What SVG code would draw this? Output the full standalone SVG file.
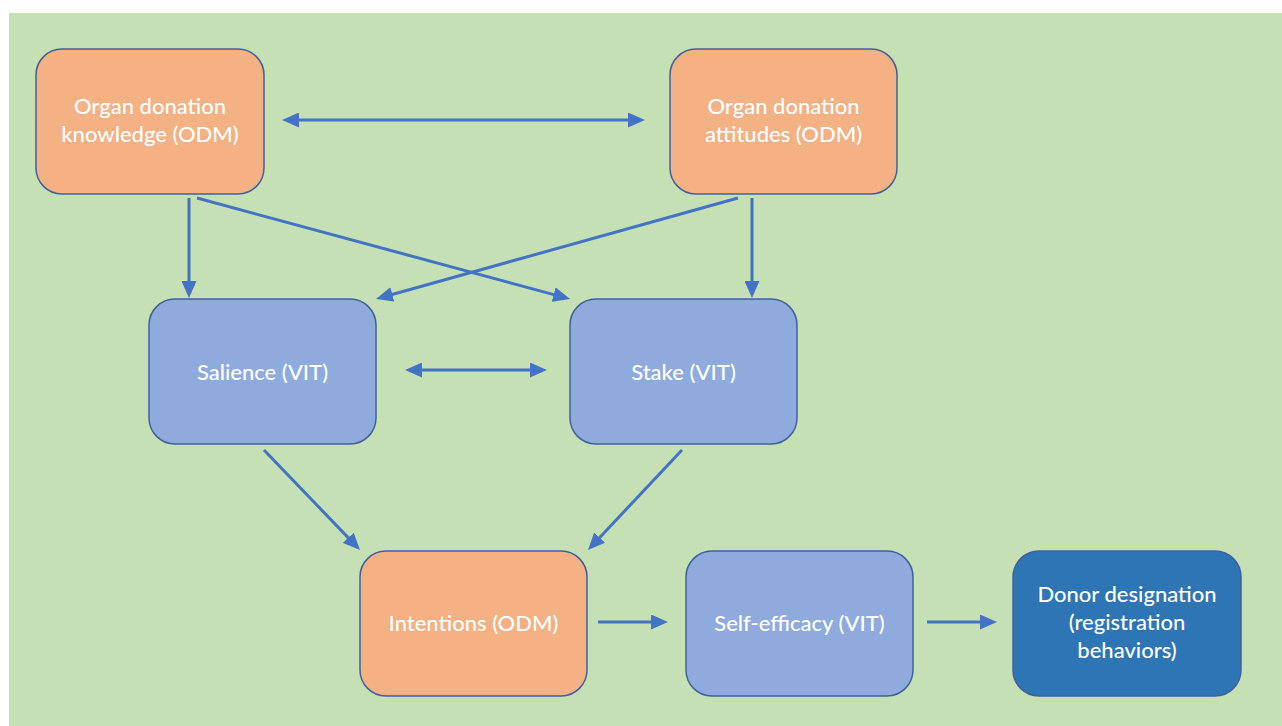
<svg xmlns="http://www.w3.org/2000/svg" width="1282" height="726" viewBox="0 0 1282 726">
<style>
.node rect{stroke:#41609A;stroke-width:1.5}
.odm rect{fill:#F4B183}
.vit rect{fill:#8FAADC}
.out rect{fill:#2E75B6}
text{font-family:Lato,"Open Sans","Liberation Sans",sans-serif;font-size:22px;font-weight:500;fill:#FFFFFF;text-anchor:middle}
.conn line{stroke:#4472C4;stroke-width:3;fill:none}
</style>
<defs>
<marker id="ah" markerUnits="userSpaceOnUse" markerWidth="17" markerHeight="15" refX="4" refY="7.5" orient="auto-start-reverse" viewBox="0 0 17 15">
<path d="M0,0 L17,7.5 L0,15 z" fill="#4472C4"/>
</marker>
</defs>
<rect x="9" y="13" width="1273" height="713" fill="#C5E0B4"/>
<g id="n-knowledge" class="node odm"><rect x="36" y="49" width="228" height="145" rx="26"/><text x="150" y="114">Organ donation</text><text x="150" y="142">knowledge (ODM)</text></g>
<g id="n-attitudes" class="node odm"><rect x="670" y="49" width="227" height="145" rx="26"/><text x="783.5" y="114">Organ donation</text><text x="783.5" y="142">attitudes (ODM)</text></g>
<g id="n-salience" class="node vit"><rect x="149" y="299" width="227" height="145" rx="26"/><text x="262.5" y="380">Salience (VIT)</text></g>
<g id="n-stake" class="node vit"><rect x="570" y="299" width="227" height="145" rx="26"/><text x="683.5" y="380">Stake (VIT)</text></g>
<g id="n-intentions" class="node odm"><rect x="360" y="551" width="227" height="145" rx="26"/><text x="473.5" y="631">Intentions (ODM)</text></g>
<g id="n-selfefficacy" class="node vit"><rect x="686" y="551" width="227" height="145" rx="26"/><text x="799.5" y="631">Self-efficacy (VIT)</text></g>
<g id="n-donor" class="node out"><rect x="1013" y="551" width="228" height="145" rx="26"/><text x="1127" y="602">Donor designation</text><text x="1127" y="630">(registration</text><text x="1127" y="658">behaviors)</text></g>
<g id="connectors" class="conn">
<line x1="295" y1="120" x2="632" y2="120" marker-start="url(#ah)" marker-end="url(#ah)"/>
<line x1="189" y1="198" x2="189" y2="285" marker-end="url(#ah)"/>
<line x1="197" y1="198" x2="557.5" y2="295.6" marker-end="url(#ah)"/>
<line x1="738" y1="198" x2="388.5" y2="295.5" marker-end="url(#ah)"/>
<line x1="752" y1="198" x2="752" y2="285" marker-end="url(#ah)"/>
<line x1="418" y1="370" x2="534" y2="370" marker-start="url(#ah)" marker-end="url(#ah)"/>
<line x1="264" y1="450" x2="351" y2="540.6" marker-end="url(#ah)"/>
<line x1="682" y1="450" x2="596.9" y2="540.5" marker-end="url(#ah)"/>
<line x1="598" y1="622" x2="655" y2="622" marker-end="url(#ah)"/>
<line x1="927" y1="622" x2="984" y2="622" marker-end="url(#ah)"/>
</g>
</svg>
